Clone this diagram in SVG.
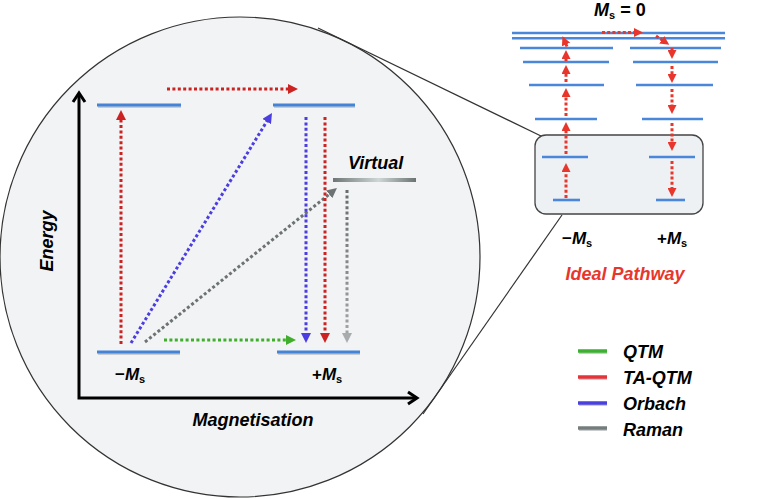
<svg xmlns="http://www.w3.org/2000/svg" width="761" height="499" viewBox="0 0 761 499">
<defs>
<style>
.t{font-family:"Liberation Sans",Arial,sans-serif;font-weight:bold;font-style:italic;fill:#000}
.lvl{stroke:#4383d8;stroke-width:3;fill:none}
.lv2{stroke:#4a86d9;stroke-width:2.6;fill:none}
.dot{fill:none;stroke-width:3;stroke-dasharray:3 2.4}
.ld{fill:none;stroke:#e8362c;stroke-width:3;stroke-dasharray:3 2.2}
.ax{stroke:#000;stroke-width:3;fill:none}
.leg{stroke-width:3.5;fill:none}
.sh{stroke:#c9cdd0;stroke-width:2;fill:none}
</style>
<marker id="aRed" viewBox="0 0 10 10" refX="3" refY="5" markerWidth="10" markerHeight="10" markerUnits="userSpaceOnUse" orient="auto"><path d="M0,0 L10,5 L0,10 z" fill="#cc2222"/></marker>
<marker id="aBlue" viewBox="0 0 10 10" refX="3" refY="5" markerWidth="10" markerHeight="10" markerUnits="userSpaceOnUse" orient="auto"><path d="M0,0 L10,5 L0,10 z" fill="#4b3ee0"/></marker>
<marker id="aGray" viewBox="0 0 10 10" refX="3" refY="5" markerWidth="10" markerHeight="10" markerUnits="userSpaceOnUse" orient="auto"><path d="M0,0 L10,5 L0,10 z" fill="#6d7272"/></marker>
<marker id="aLGray" viewBox="0 0 10 10" refX="3" refY="5" markerWidth="10" markerHeight="10" markerUnits="userSpaceOnUse" orient="auto"><path d="M0,0 L10,5 L0,10 z" fill="#a9acae"/></marker>
<marker id="aGreen" viewBox="0 0 10 10" refX="3" refY="5" markerWidth="10" markerHeight="10" markerUnits="userSpaceOnUse" orient="auto"><path d="M0,0 L10,5 L0,10 z" fill="#3fae2c"/></marker>
<marker id="aLad" viewBox="0 0 10 10" refX="3" refY="5" markerWidth="9" markerHeight="9" markerUnits="userSpaceOnUse" orient="auto"><path d="M0,0 L10,5 L0,10 z" fill="#e8362c"/></marker>
<linearGradient id="gVirt" x1="333" y1="0" x2="416" y2="0" gradientUnits="userSpaceOnUse">
<stop offset="0" stop-color="#6d7575"/><stop offset="0.55" stop-color="#cfd6d6"/><stop offset="1" stop-color="#6a7272"/>
</linearGradient>
<linearGradient id="gDown" x1="0" y1="190" x2="0" y2="343" gradientUnits="userSpaceOnUse">
<stop offset="0" stop-color="#666b6b"/><stop offset="1" stop-color="#a6a9ab"/>
</linearGradient>
</defs>

<g id="magnifier">
<circle cx="240" cy="257" r="240" fill="#f1f3f4" stroke="#333" stroke-width="1.2"/>
<line x1="318" y1="28" x2="541" y2="136" stroke="#333" stroke-width="1.2"/>
<line x1="562" y1="215" x2="423" y2="414" stroke="#333" stroke-width="1.2"/>
</g>

<g id="axes">
<polyline class="ax" points="79,94 79,398 416,398"/>
<polyline class="ax" points="73,102 79,93 85,102"/>
<polyline class="ax" points="408,392 417,398 408,404"/>
<text class="t" font-size="18" text-anchor="middle" transform="translate(53,241) rotate(-90)">Energy</text>
<text class="t" font-size="18" x="253" y="426" text-anchor="middle">Magnetisation</text>
</g>

<g id="level-left-top"><line class="sh" x1="98" y1="107" x2="181" y2="107"/><line class="lvl" x1="97" y1="105" x2="181" y2="105"/></g>
<g id="level-right-top"><line class="sh" x1="274" y1="107" x2="355" y2="107"/><line class="lvl" x1="273" y1="105" x2="355" y2="105"/></g>
<g id="level-left-bottom"><line class="sh" x1="98" y1="354" x2="180" y2="354"/><line class="lvl" x1="97" y1="352" x2="180" y2="352"/>
<text class="t" font-size="17" x="115" y="380"><tspan font-style="normal">−</tspan>M<tspan font-size="11" dy="3" font-style="normal">s</tspan></text></g>
<g id="level-right-bottom"><line class="sh" x1="278" y1="354" x2="360" y2="354"/><line class="lvl" x1="277" y1="352" x2="360" y2="352"/>
<text class="t" font-size="17" x="312" y="380"><tspan font-style="normal">+</tspan>M<tspan font-size="11" dy="3" font-style="normal">s</tspan></text></g>
<g id="level-virtual"><line x1="333" y1="180" x2="416" y2="180" stroke="url(#gVirt)" stroke-width="4"/>
<text class="t" font-size="18" x="348" y="169">Virtual</text></g>

<g id="connectors">
<line class="dot" stroke="#cc2222" x1="121" y1="344" x2="121" y2="117" marker-end="url(#aRed)"/>
<line class="dot" stroke="#cc2222" x1="167" y1="89" x2="291" y2="89" marker-end="url(#aRed)"/>
<line class="dot" stroke="#4b3ee0" x1="131" y1="343" x2="268.3" y2="119" marker-end="url(#aBlue)"/>
<line class="dot" stroke="#6d7272" x1="145" y1="342" x2="331.5" y2="192.4" marker-end="url(#aGray)"/>
<line class="dot" stroke="#3fae2c" x1="164" y1="340" x2="289" y2="340" marker-end="url(#aGreen)"/>
<line class="dot" stroke="#4b3ee0" x1="306" y1="117" x2="306" y2="336" marker-end="url(#aBlue)"/>
<line class="dot" stroke="#cc2222" x1="325" y1="117" x2="325" y2="336" marker-end="url(#aRed)"/>
<line class="dot" stroke="url(#gDown)" x1="347" y1="190" x2="347.01" y2="336" marker-end="url(#aLGray)"/>
</g>

<g id="ladder">
<text class="t" font-size="18" x="594" y="16">M<tspan font-size="11" dy="3" font-style="normal">s</tspan><tspan dy="-3" font-style="normal"> = 0</tspan></text>
<rect x="535" y="135" width="168" height="79" rx="11" fill="#eef1f3" stroke="#444" stroke-width="1.3"/>
<line class="lv2" x1="512" y1="33" x2="725" y2="33"/>
<line class="lv2" x1="512" y1="38.3" x2="725" y2="38.3"/>
<line class="lv2" x1="520" y1="48" x2="613" y2="48"/><line class="lv2" x1="630" y1="48" x2="721" y2="48"/>
<line class="lv2" x1="523" y1="62" x2="609" y2="62"/><line class="lv2" x1="633" y1="62" x2="718" y2="62"/>
<line class="lv2" x1="529" y1="85" x2="604" y2="85"/><line class="lv2" x1="636" y1="85" x2="713" y2="85"/>
<line class="lv2" x1="535" y1="119" x2="597" y2="119"/><line class="lv2" x1="642" y1="119" x2="703" y2="119"/>
<line class="lv2" x1="542" y1="157" x2="588" y2="157"/><line class="lv2" x1="649" y1="157" x2="695" y2="157"/>
<line class="lv2" x1="553" y1="200" x2="580" y2="200"/><line class="lv2" x1="656" y1="200" x2="685" y2="200"/>
<g id="ladder-arrows">
<line class="ld" x1="566" y1="198" x2="566" y2="169.3" marker-end="url(#aLad)"/>
<line class="ld" x1="566" y1="154" x2="566" y2="128.3" marker-end="url(#aLad)"/>
<line class="ld" x1="566" y1="116" x2="566" y2="94.3" marker-end="url(#aLad)"/>
<line class="ld" x1="566" y1="82" x2="566" y2="71.3" marker-end="url(#aLad)"/>
<line class="ld" x1="566" y1="61" x2="566" y2="56.3" marker-end="url(#aLad)"/>
<line class="ld" x1="567" y1="46.5" x2="565" y2="42" marker-end="url(#aLad)"/>
<line class="ld" x1="602" y1="32.5" x2="636.7" y2="32.5" marker-end="url(#aLad)"/>
<line class="ld" x1="656" y1="36" x2="664" y2="41.3" marker-end="url(#aLad)"/>
<line class="ld" x1="672" y1="48" x2="672" y2="52.7" marker-end="url(#aLad)"/>
<line class="ld" x1="672" y1="66" x2="672" y2="76.7" marker-end="url(#aLad)"/>
<line class="ld" x1="672" y1="89" x2="672" y2="107.7" marker-end="url(#aLad)"/>
<line class="ld" x1="672" y1="123" x2="672" y2="144.7" marker-end="url(#aLad)"/>
<line class="ld" x1="672" y1="161" x2="672" y2="190.7" marker-end="url(#aLad)"/>
</g>
<text class="t" font-size="17" x="562" y="244"><tspan font-style="normal">−</tspan>M<tspan font-size="11" dy="3" font-style="normal">s</tspan></text>
<text class="t" font-size="17" x="657" y="244"><tspan font-style="normal">+</tspan>M<tspan font-size="11" dy="3" font-style="normal">s</tspan></text>
<text class="t" font-size="18" x="625" y="280" text-anchor="middle" style="fill:#e8362c">Ideal Pathway</text>
</g>

<g id="legend">
<line class="sh" x1="579" y1="353" x2="607" y2="353"/><line class="leg" stroke="#3cb030" x1="578" y1="351" x2="607" y2="351"/>
<line class="sh" x1="579" y1="379" x2="607" y2="379"/><line class="leg" stroke="#e6333a" x1="578" y1="377" x2="607" y2="377"/>
<line class="sh" x1="579" y1="405" x2="607" y2="405"/><line class="leg" stroke="#4a3fe0" x1="578" y1="403" x2="607" y2="403"/>
<line class="sh" x1="579" y1="430" x2="607" y2="430"/><line class="leg" stroke="#767c7c" x1="578" y1="428" x2="607" y2="428"/>
<text class="t" font-size="18" x="623" y="358">QTM</text>
<text class="t" font-size="18" x="623" y="384">TA-QTM</text>
<text class="t" font-size="18" x="623" y="410">Orbach</text>
<text class="t" font-size="18" x="623" y="436">Raman</text>
</g>
</svg>
